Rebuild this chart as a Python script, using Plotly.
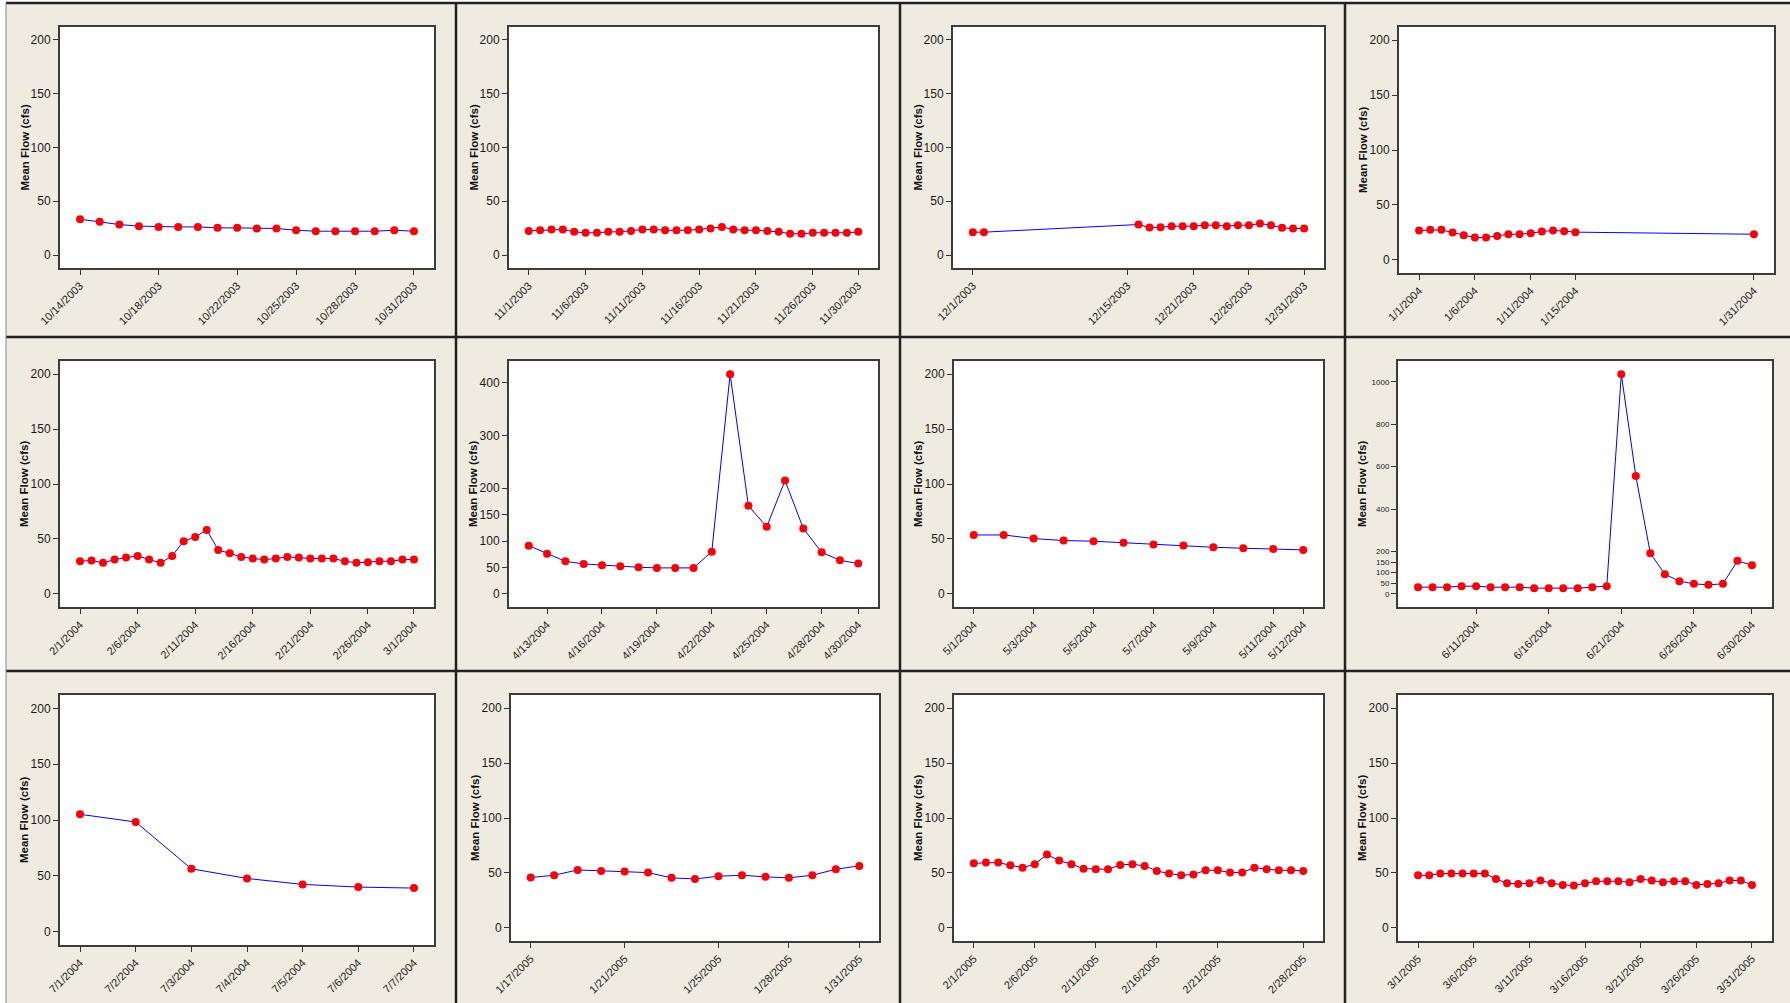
import pandas as pd
import plotly.graph_objects as go

W, H = 1790, 1003
FONT = "Liberation Sans, Arial, sans-serif"
BEIGE = "#EFEBE0"

# ---------------- data (mean daily flow, cfs) ----------------
dates_oct2003 = pd.date_range("2003-10-14", "2003-10-31")
flow_oct2003 = [33.3, 30.9, 28.4, 26.9, 26.2, 26.2, 26.2, 25.3, 25.3, 24.7, 24.7, 23.1,
                22.2, 22.2, 22.2, 22.2, 23.1, 22.2]
ticks_oct2003 = ["10/14/2003", "10/18/2003", "10/22/2003", "10/25/2003", "10/28/2003", "10/31/2003"]

dates_nov2003 = pd.date_range("2003-11-01", "2003-11-30")
flow_nov2003 = [22.5, 23.1, 23.8, 23.8, 21.6, 20.7, 20.7, 21.6, 21.6, 22.5, 23.8, 23.8, 23.1,
                23.1, 23.1, 23.8, 24.7, 26.2, 23.8, 23.1, 23.1, 22.5, 21.6, 19.8, 19.8, 20.7,
                20.7, 20.7, 20.7, 21.6]
ticks_nov2003 = ["11/1/2003", "11/6/2003", "11/11/2003", "11/16/2003", "11/21/2003", "11/26/2003", "11/30/2003"]

dates_dec2003 = pd.DatetimeIndex(["2003-12-01", "2003-12-02"]).append(pd.date_range("2003-12-16", "2003-12-31"))
flow_dec2003 = [21.3, 21.3, 28.4, 25.6, 25.9, 26.9, 26.9, 26.9, 27.8, 27.8, 26.9, 27.8, 27.8,
                29.3, 27.8, 25.3, 24.7, 24.7]
ticks_dec2003 = ["12/1/2003", "12/15/2003", "12/21/2003", "12/26/2003", "12/31/2003"]

dates_jan2004 = pd.date_range("2004-01-01", "2004-01-15").append(pd.DatetimeIndex(["2004-01-31"]))
flow_jan2004 = [26.7, 27.3, 27.3, 24.8, 22.4, 20.3, 20.3, 21.8, 23.3, 23.3, 24.2, 25.8, 26.7,
                26.1, 25.2, 23.3]
ticks_jan2004 = ["1/1/2004", "1/6/2004", "1/11/2004", "1/15/2004", "1/31/2004"]

dates_feb2004 = pd.date_range("2004-02-01", "2004-03-01")
flow_feb2004 = [29.7, 30.3, 28.2, 31.2, 33.0, 34.5, 31.2, 28.2, 34.5, 47.9, 51.8, 58.2, 40.0,
                37.0, 33.6, 32.1, 31.2, 32.1, 33.6, 33.0, 32.1, 32.1, 32.1, 29.7, 28.2, 28.8,
                29.7, 29.7, 31.2, 31.2]
ticks_feb2004 = ["2/1/2004", "2/6/2004", "2/11/2004", "2/16/2004", "2/21/2004", "2/26/2004", "3/1/2004"]

dates_apr2004 = pd.date_range("2004-04-12", "2004-04-30")
flow_apr2004 = [91.2, 76.1, 61.6, 56.6, 54.1, 52.2, 50.3, 49.1, 49.1, 49.1, 79.9, 416.0, 166.7,
                127.0, 214.5, 123.9, 78.6, 63.5, 57.2]
ticks_apr2004 = ["4/13/2004", "4/16/2004", "4/19/2004", "4/22/2004", "4/25/2004", "4/28/2004", "4/30/2004"]

dates_may2004 = pd.date_range("2004-05-01", "2004-05-12")
flow_may2004 = [53.6, 53.6, 50.3, 48.5, 47.9, 46.4, 44.8, 43.9, 42.4, 41.5, 40.9, 40.0]
ticks_may2004 = ["5/1/2004", "5/3/2004", "5/5/2004", "5/7/2004", "5/9/2004", "5/11/2004", "5/12/2004"]

dates_jun2004 = pd.date_range("2004-06-07", "2004-06-30")
flow_jun2004 = [31.4, 31.4, 31.4, 36.1, 36.1, 31.4, 31.4, 31.4, 26.7, 26.7, 26.7, 26.7, 31.4,
                36.1, 1036.0, 555.7, 191.5, 92.6, 59.7, 47.1, 42.4, 47.1, 155.4, 135.0]
ticks_jun2004 = ["6/11/2004", "6/16/2004", "6/21/2004", "6/26/2004", "6/30/2004"]

dates_jul2004 = pd.date_range("2004-07-01", "2004-07-07")
flow_jul2004 = [105.1, 98.2, 56.3, 47.6, 42.3, 39.9, 39.0]
ticks_jul2004 = ["7/1/2004", "7/2/2004", "7/3/2004", "7/4/2004", "7/5/2004", "7/6/2004", "7/7/2004"]

dates_jan2005 = pd.date_range("2005-01-17", "2005-01-31")
flow_jan2005 = [45.8, 47.9, 52.7, 51.8, 51.2, 50.3, 45.5, 44.5, 47.0, 47.9, 46.4, 45.5, 47.9,
                53.3, 56.4]
ticks_jan2005 = ["1/17/2005", "1/21/2005", "1/25/2005", "1/28/2005", "1/31/2005"]

dates_feb2005 = pd.date_range("2005-02-01", "2005-02-28")
flow_feb2005 = [58.8, 59.4, 59.4, 57.0, 54.8, 57.9, 66.7, 61.2, 57.9, 53.9, 53.3, 53.3, 57.3,
                57.9, 56.4, 51.8, 49.4, 47.9, 48.5, 52.4, 52.4, 50.3, 50.3, 54.8, 53.3, 52.4,
                52.4, 51.8]
ticks_feb2005 = ["2/1/2005", "2/6/2005", "2/11/2005", "2/16/2005", "2/21/2005", "2/28/2005"]

dates_mar2005 = pd.date_range("2005-03-01", "2005-03-31")
flow_mar2005 = [47.9, 47.9, 49.4, 49.4, 49.4, 49.4, 49.4, 44.5, 40.6, 40.0, 40.6, 43.0, 40.6,
                39.1, 38.5, 40.6, 42.4, 42.4, 42.4, 41.5, 44.5, 43.0, 41.5, 42.4, 42.4, 39.1,
                40.0, 40.6, 43.0, 43.0, 39.1]
ticks_mar2005 = ["3/1/2005", "3/6/2005", "3/11/2005", "3/16/2005", "3/21/2005", "3/26/2005", "3/31/2005"]

yticks_std = [0, 50, 100, 150, 200]
yticks_apr = [0, 50, 100, 150, 200, 300, 400]
yticks_jun = [0, 50, 100, 150, 200, 400, 600, 800, 1000]

panels = [
    (dates_oct2003, flow_oct2003, ticks_oct2003, yticks_std),
    (dates_nov2003, flow_nov2003, ticks_nov2003, yticks_std),
    (dates_dec2003, flow_dec2003, ticks_dec2003, yticks_std),
    (dates_jan2004, flow_jan2004, ticks_jan2004, yticks_std),
    (dates_feb2004, flow_feb2004, ticks_feb2004, yticks_std),
    (dates_apr2004, flow_apr2004, ticks_apr2004, yticks_apr),
    (dates_may2004, flow_may2004, ticks_may2004, yticks_std),
    (dates_jun2004, flow_jun2004, ticks_jun2004, yticks_jun),
    (dates_jul2004, flow_jul2004, ticks_jul2004, yticks_std),
    (dates_jan2005, flow_jan2005, ticks_jan2005, yticks_std),
    (dates_feb2005, flow_feb2005, ticks_feb2005, yticks_std),
    (dates_mar2005, flow_mar2005, ticks_mar2005, yticks_std),
]

# ---------------- layout geometry (pixels) ----------------
x_px = [(60, 434), (509, 878), (953, 1324), (1399, 1774),
        (60, 434), (509, 878), (954, 1323), (1398, 1772),
        (60, 434), (511, 879), (954, 1323), (1398, 1772)]
y_px = [(27, 268), (27, 268), (27, 268), (27, 273),
        (361, 607), (361, 607), (361, 607), (361, 607),
        (695, 945), (695, 941), (695, 941), (695, 941)]

fig = go.Figure()
layout = dict(
    width=W, height=H,
    margin=dict(l=0, r=0, t=0, b=0, pad=0, autoexpand=False),
    paper_bgcolor=BEIGE, plot_bgcolor="white",
    showlegend=False,
    font=dict(family=FONT, color="#1a1a1a"),
)
annotations = []

for i, (dates, flow, tlabels, yticks) in enumerate(panels):
    n = i + 1
    sfx = "" if n == 1 else str(n)
    dates = pd.DatetimeIndex(dates)
    fig.add_trace(go.Scatter(
        x=dates, y=flow, mode="lines+markers",
        line=dict(color="#0000FF", width=1),
        marker=dict(color="#FF0000", size=8, line=dict(width=0)),
        xaxis="x" + sfx, yaxis="y" + sfx,
    ))
    dmin, dmax = dates.min(), dates.max()
    pad = (dmax - dmin) * 0.06
    top = max(200, max(flow))
    x0, x1 = x_px[i]
    y0, y1 = y_px[i]
    small = len(yticks) > 7
    layout["xaxis" + sfx] = dict(
        domain=[x0 / W, x1 / W], anchor="y" + sfx, type="date",
        range=[(dmin - pad).isoformat(), (dmax + pad).isoformat()],
        tickvals=[pd.to_datetime(t, format="%m/%d/%Y") for t in tlabels],
        ticktext=tlabels, tickangle=-45, automargin=False,
        ticks="outside", ticklen=5, tickwidth=1, tickcolor="#333333",
        showline=True, mirror=True, linecolor="#3c3c3c", linewidth=2,
        showgrid=False, zeroline=False,
        tickfont=dict(family=FONT, size=11, color="#1a1a1a"),
    )
    layout["yaxis" + sfx] = dict(
        domain=[1 - y1 / H, 1 - y0 / H], anchor="x" + sfx,
        range=[-0.06 * top, 1.06 * top], automargin=False,
        tickvals=yticks, ticktext=[str(v) for v in yticks],
        ticks="outside", ticklen=5, tickwidth=1, tickcolor="#333333",
        showline=True, mirror=True, linecolor="#3c3c3c", linewidth=2,
        showgrid=False, zeroline=False,
        tickfont=dict(family=FONT, size=8 if small else 12, color="#1a1a1a"),
    )
    annotations.append(dict(
        text="<b>Mean Flow (cfs)</b>", textangle=-90,
        xref="paper", yref="paper", x=x0 / W, xshift=-36,
        y=1 - (y0 + y1) / 2 / H, xanchor="center", yanchor="middle",
        showarrow=False, font=dict(family=FONT, size=11.5, color="#111111"),
    ))

# panel frames
shapes = [
    dict(type="rect", xref="paper", yref="paper", x0=0, x1=1, y0=1 - 3 / H, y1=1,
         fillcolor="white", line=dict(width=0), layer="below"),
    dict(type="rect", xref="paper", yref="paper", x0=0, x1=6 / W, y0=0, y1=1,
         fillcolor="white", line=dict(width=0), layer="below"),
]
for yy in (3, 337, 671):
    shapes.append(dict(type="line", xref="paper", yref="paper", x0=6 / W, x1=1,
                       y0=1 - yy / H, y1=1 - yy / H, line=dict(color="#222222", width=2.5)))
for xx in (456, 900, 1345):
    shapes.append(dict(type="line", xref="paper", yref="paper", x0=xx / W, x1=xx / W,
                       y0=0, y1=1 - 3 / H, line=dict(color="#222222", width=2.5)))
shapes.append(dict(type="line", xref="paper", yref="paper", x0=6 / W, x1=6 / W,
                   y0=0, y1=1 - 3 / H, line=dict(color="#888888", width=1)))

layout["annotations"] = annotations
layout["shapes"] = shapes
fig.update_layout(**layout)
fig.write_html("out.html",
               config={"displayModeBar": False},
               post_script="document.body.style.margin='0';document.body.style.overflow='hidden';")
